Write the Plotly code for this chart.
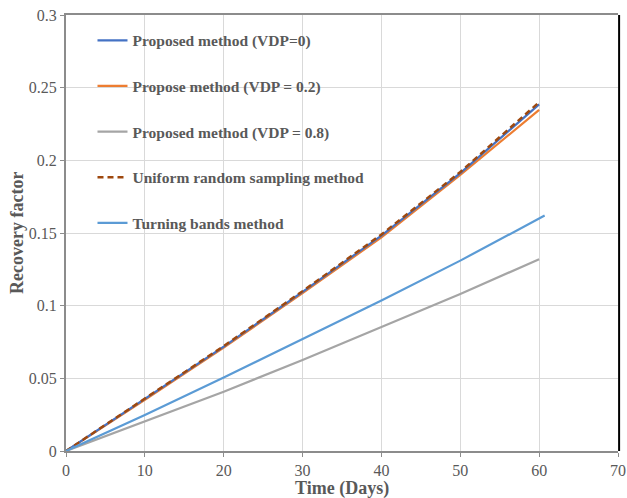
import plotly.graph_objects as go

days = [0, 10, 20, 30, 40, 50, 60]
days_tb = [0, 10, 20, 30, 40, 50, 60.7]

vdp0 = [0, 0.0356, 0.0718, 0.1095, 0.1482, 0.1912, 0.2385]
vdp02 = [0, 0.0352, 0.0711, 0.1087, 0.1470, 0.1900, 0.2347]
vdp08 = [0, 0.0202, 0.0408, 0.0626, 0.0851, 0.1080, 0.1320]
urs = [0, 0.0358, 0.0722, 0.1100, 0.1490, 0.1920, 0.2400]
tbm = [0, 0.0248, 0.0505, 0.0768, 0.1035, 0.1310, 0.1620]

names = ["Proposed method (VDP=0)", "Propose method (VDP = 0.2)",
         "Proposed method (VDP = 0.8)", "Uniform random sampling method",
         "Turning bands method"]
x_title = "Time (Days)"
y_title = "Recovery factor"

FONT = "Liberation Serif, Times New Roman, serif"
TXT = "#595959"

fig = go.Figure()
series = [
    (days, vdp02, names[1], "#ED7D31", "solid", 2.2),
    (days, vdp0, names[0], "#4472C4", "solid", 2.2),
    (days, vdp08, names[2], "#A5A5A5", "solid", 2.2),
    (days, urs, names[3], "#9E480E", "6px,4px", 2.4),
    (days_tb, tbm, names[4], "#5B9BD5", "solid", 2.2),
]
rank = {n: i for i, n in enumerate(names)}
for x, y, n, c, d, w in series:
    fig.add_trace(go.Scatter(
        x=x, y=y, name=n, mode="lines", legendgroup=n, legendrank=rank[n],
        line=dict(color=c, dash=d, width=w)))

fig.update_layout(
    width=627, height=498,
    margin=dict(l=66, r=9, t=15, b=47),
    paper_bgcolor="white", plot_bgcolor="white",
    font=dict(family=FONT, color=TXT),
    legend=dict(x=0.048, y=0.98, xanchor="left", yanchor="top",
                bgcolor="rgba(0,0,0,0)", tracegroupgap=22.5,
                font=dict(family=FONT, size=15.5, color=TXT, weight="bold")),
    xaxis=dict(range=[0, 70], dtick=10, showgrid=True, gridcolor="#D9D9D9",
               gridwidth=1, showline=True, linecolor="#8C8C8C", linewidth=2,
               mirror=True, ticks="outside", ticklen=4, tickcolor="#8C8C8C",
               tickfont=dict(size=16, color=TXT), zeroline=False,
               automargin=False),
    yaxis=dict(range=[0, 0.3], dtick=0.05, showgrid=True, gridcolor="#D9D9D9",
               gridwidth=1, showline=True, linecolor="#8C8C8C", linewidth=2,
               ticks="outside", ticklen=4, tickcolor="#8C8C8C",
               tickfont=dict(size=16, color=TXT), zeroline=False,
               tickformat="~g", automargin=False),
)
fig.add_annotation(text=x_title, xref="paper", yref="paper", x=0.5, y=0,
                   yshift=-37, showarrow=False, yanchor="middle",
                   font=dict(family=FONT, size=18, color=TXT, weight="bold"))
fig.add_annotation(text=y_title, xref="paper", yref="paper", x=0, y=0.5,
                   xshift=-49, showarrow=False, textangle=-90, xanchor="center",
                   font=dict(family=FONT, size=18, color=TXT, weight="bold"))
fig.add_shape(type="line", xref="paper", yref="paper", x0=1.002, x1=1.002,
              y0=0, y1=1, line=dict(color="black", width=2))
fig.write_html("out.html")
